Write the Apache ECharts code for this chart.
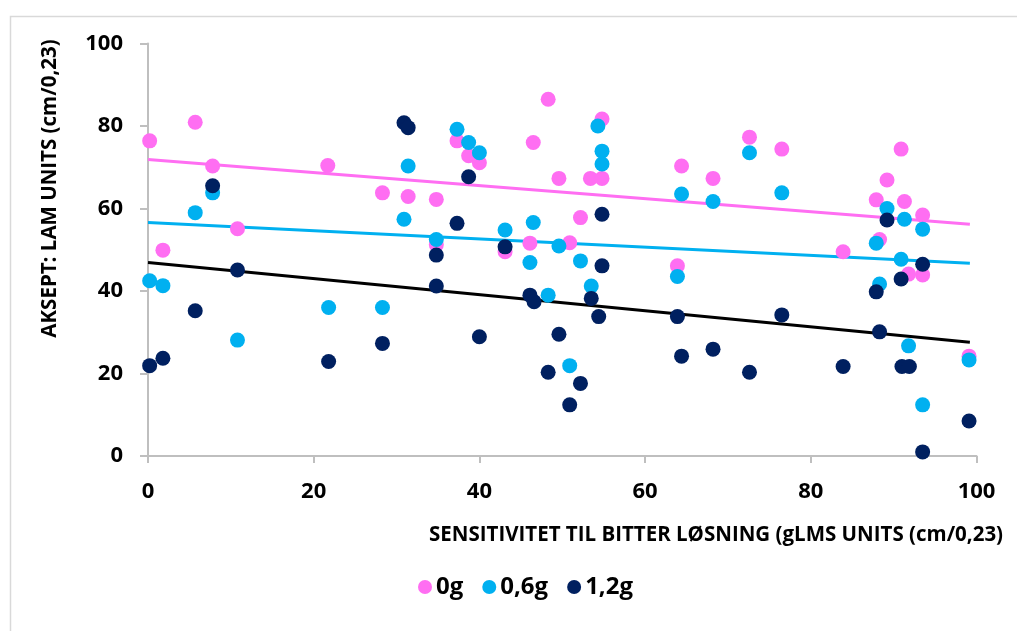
<!DOCTYPE html>
<html>
<head>
<meta charset="utf-8">
<script src="https://cdn.jsdelivr.net/npm/echarts@6/dist/echarts.min.js"></script>
<style>html,body{margin:0;padding:0;background:#fff}#c{width:1017px;height:631px}</style>
</head>
<body>
<div id="c"></div>
<script>
const seriesNames = ['0g', '0,6g', '1,2g'];
const xTicks = [0, 20, 40, 60, 80, 100];
const yTicks = [0, 20, 40, 60, 80, 100];

const data0g = [[0.2,76.4],[1.8,49.9],[5.7,80.9],[7.8,70.3],[10.8,55.1],[21.7,70.4],[28.3,63.8],[31.4,62.9],[34.8,62.2],[34.8,51.2],[37.3,76.4],[38.7,72.8],[40.0,71.1],[43.1,49.5],[46.1,51.6],[46.5,76.0],[48.3,86.5],[49.6,67.3],[50.9,51.7],[52.2,57.8],[53.4,67.3],[54.8,67.3],[54.8,81.7],[63.9,46.1],[64.4,70.3],[68.2,67.3],[72.6,77.3],[76.5,74.4],[83.9,49.5],[87.9,62.1],[88.3,52.5],[89.2,66.9],[90.9,74.4],[91.3,61.7],[91.8,44.1],[93.5,58.4],[93.5,43.9],[99.1,24.2]];

const data06g = [[0.2,42.5],[1.8,41.3],[5.7,59.0],[7.8,63.8],[10.8,28.1],[21.8,36.0],[28.3,36.0],[30.9,57.4],[31.4,70.3],[34.8,52.5],[37.3,79.2],[38.7,76.0],[40.0,73.5],[43.1,54.8],[46.1,46.9],[46.5,56.6],[48.3,39.0],[49.6,50.9],[50.9,21.9],[52.2,47.3],[53.5,41.2],[54.3,80.0],[54.8,73.9],[54.8,70.8],[63.9,43.5],[64.4,63.5],[68.2,61.7],[72.6,73.5],[76.5,63.8],[87.9,51.6],[88.3,41.7],[89.2,60.0],[90.9,47.7],[91.3,57.4],[91.8,26.7],[93.5,55.0],[93.5,12.4],[99.1,23.3]];

const data12g = [[0.2,21.9],[1.8,23.7],[5.7,35.2],[7.8,65.5],[10.8,45.1],[21.8,22.9],[28.3,27.3],[30.9,80.8],[31.4,79.6],[34.8,48.7],[34.8,41.2],[37.3,56.4],[38.7,67.7],[40.0,28.9],[43.1,50.7],[46.1,39.0],[46.6,37.4],[48.3,20.3],[49.6,29.5],[50.9,12.4],[52.2,17.6],[53.5,38.2],[54.4,33.8],[54.8,58.6],[54.8,46.1],[63.9,33.8],[64.4,24.2],[68.2,25.9],[72.6,20.3],[76.5,34.2],[83.9,21.7],[87.9,39.8],[88.3,30.1],[89.2,57.2],[90.9,42.9],[91.0,21.7],[91.9,21.7],[93.5,46.5],[93.5,1.0],[99.1,8.5]];

const trend0g = [[0,71.9],[99.2,56.2]];
const trend06g = [[0,56.6],[99.2,46.7]];
const trend12g = [[0,46.9],[99.2,27.6]];

const colors = ['#FF6EF2', '#00B0F0', '#002060'];
const trendColors = ['#FF6EF2', '#00B0F0', '#000000'];
const FONT = '"Open Sans", "Noto Sans", sans-serif';

const chart = echarts.init(document.getElementById('c'), null, {renderer: 'canvas'});

const scatterSets = [data0g, data06g, data12g];
const trendSets = [trend0g, trend06g, trend12g];

const series = [];
trendSets.forEach((t, i) => {
  series.push({
    type: 'line', data: t, symbol: 'none', silent: true, z: 1,
    lineStyle: {color: trendColors[i], width: 3}
  });
});
scatterSets.forEach((d, i) => {
  series.push({
    name: seriesNames[i], type: 'scatter', data: d, symbolSize: 15, z: 3 + i,
    itemStyle: {color: colors[i], opacity: 1}
  });
});

chart.setOption({
  animation: false,
  backgroundColor: '#fff',
  textStyle: {fontFamily: FONT},
  grid: {left: 148, right: 40.5, top: 43.5, bottom: 175, containLabel: false},
  xAxis: {
    type: 'value', min: 0, max: 100, interval: 20,
    axisLine: {show: true, lineStyle: {color: '#BFBFBF', width: 2}},
    axisTick: {show: true, length: 7, lineStyle: {color: '#BFBFBF', width: 2}},
    splitLine: {show: false},
    axisLabel: {
      margin: 25, color: '#000', fontSize: 22, fontWeight: 'bold', fontFamily: FONT,
      formatter: v => xTicks.includes(v) ? String(v) : ''
    }
  },
  yAxis: {
    type: 'value', min: 0, max: 100, interval: 20,
    axisLine: {show: true, lineStyle: {color: '#BFBFBF', width: 2}},
    axisTick: {show: true, length: 8, lineStyle: {color: '#BFBFBF', width: 2}},
    splitLine: {show: false},
    axisLabel: {
      margin: 25, color: '#000', fontSize: 22, fontWeight: 'bold', fontFamily: FONT,
      formatter: v => yTicks.includes(v) ? String(v) : ''
    }
  },
  legend: {
    data: seriesNames, left: 413, top: 570, icon: 'circle', itemWidth: 14, itemHeight: 14, itemGap: 19,
    textStyle: {color: '#000', fontSize: 24, fontWeight: 'bold', fontFamily: FONT, padding: [0,0,0,-1]}
  },
  graphic: [
    {type: 'rect', left: 8, top: 14, shape: {width: 1200, height: 800}, style: {fill: 'none', stroke: '#D9D9D9', lineWidth: 1.5}, silent: true, z: -10},
    {type: 'text', x: 50, y: 188.5, rotation: Math.PI / 2,
      style: {text: 'AKSEPT: LAM UNITS (cm/0,23)', fill: '#000', font: 'bold 20.5px ' + FONT, align: 'center', verticalAlign: 'middle'}},
    {type: 'text', x: 429, y: 535,
      style: {text: 'SENSITIVITET TIL BITTER LØSNING (gLMS UNITS (cm/0,23)', fill: '#000', font: 'bold 20.5px ' + FONT, align: 'left', verticalAlign: 'middle'}}
  ],
  series: series
});
</script>
</body>
</html>
